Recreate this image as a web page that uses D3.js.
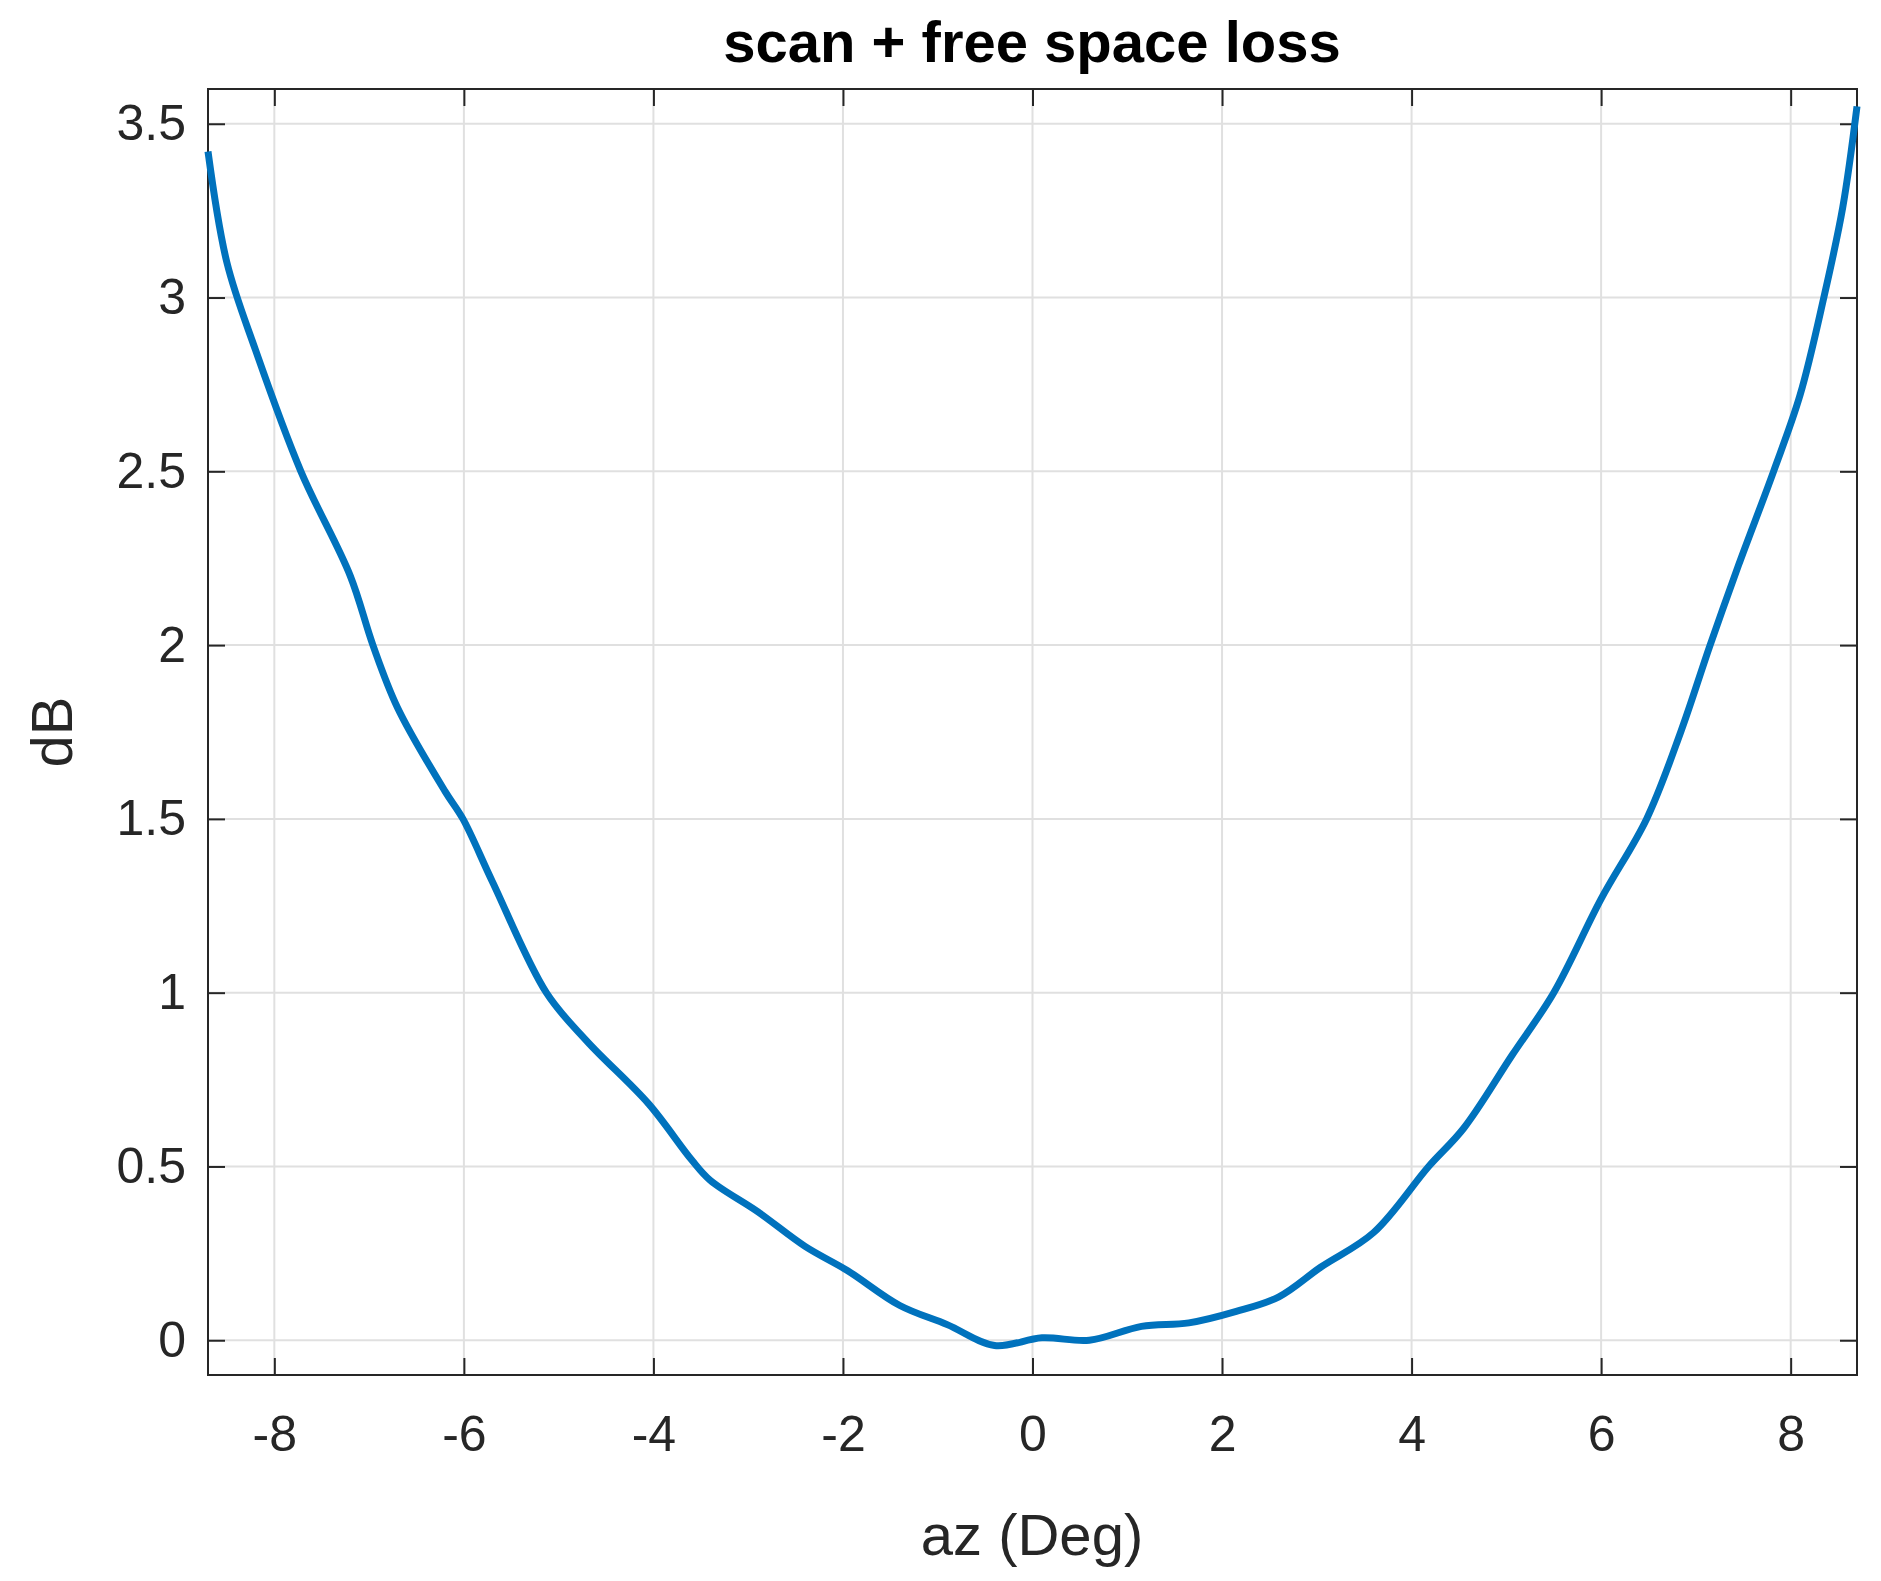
<!DOCTYPE html><html><head><meta charset="utf-8"><script src="https://cdn.jsdelivr.net/npm/d3@7"></script>
<style>body{margin:0;background:#fff}</style></head><body><svg id="c" width="1881" height="1581"></svg><script>
const az=[-8.7,-8.5,-8.2,-7.72,-7.2,-6.96,-6.7,-6.2,-6.01,-5.7,-5.13,-4.7,-4.05,-3.6,-3.4,-2.9,-2.4,-1.95,-1.4,-0.9,-0.4,0.1,0.6,1.15,1.65,2.15,2.6,3.04,3.6,4.18,4.55,5.06,5.5,6.0,6.48,6.84,7.15,7.45,7.82,8.1,8.35,8.55,8.7];
const dB=[3.42,3.1,2.85,2.5,2.2,2.0,1.82,1.58,1.5,1.32,1.0,0.86,0.68,0.52,0.46,0.37,0.27,0.2,0.1,0.045,-0.015,0.007,0,0.04,0.05,0.083,0.125,0.21,0.31,0.5,0.61,0.82,1.0,1.27,1.5,1.75,2.0,2.23,2.5,2.72,3.0,3.26,3.55];
const xTicks=[-8,-6,-4,-2,0,2,4,6,8];
const yTicks=[0,0.5,1,1.5,2,2.5,3,3.5];
const svg=d3.select("#c"),L=208,R=1857,T=89,B=1375;
const x=d3.scaleLinear().domain([-8.7,8.7]).range([L,R]);
const y=d3.scaleLinear().domain([-0.1,3.6]).range([B,T]);
const g=svg.append("g");
g.selectAll(".gx").data(xTicks).join("line").attr("x1",d=>x(d)).attr("x2",d=>x(d)).attr("y1",T).attr("y2",B).attr("stroke","#e0e0e0").attr("stroke-width",2);
g.selectAll(".gy").data(yTicks).join("line").attr("y1",d=>y(d)).attr("y2",d=>y(d)).attr("x1",L).attr("x2",R).attr("stroke","#e0e0e0").attr("stroke-width",2);
const ax=d3.axisBottom(x).tickValues(xTicks).tickSize(-17).tickPadding(40).tickFormat(d=>String(d).replace("−","-"));
const ay=d3.axisLeft(y).tickValues(yTicks).tickSize(-17).tickPadding(22).tickFormat(d=>String(d));
function st(s){s.select(".domain").remove();s.selectAll("line").attr("stroke","#262626").attr("stroke-width",2);s.selectAll("text").attr("font-family","Liberation Sans, Arial").attr("font-size",50).attr("fill","#262626");}
svg.append("g").attr("transform",`translate(0,${B})`).call(ax).call(st);
svg.append("g").attr("transform",`translate(0,${T})`).call(d3.axisTop(x).tickValues(xTicks).tickSize(-17).tickFormat("")).call(st);
svg.append("g").attr("transform",`translate(${L},0)`).call(ay).call(st);
svg.append("g").attr("transform",`translate(${R},0)`).call(d3.axisRight(y).tickValues(yTicks).tickSize(-17).tickFormat("")).call(st);
svg.append("rect").attr("x",L).attr("y",T).attr("width",R-L).attr("height",B-T).attr("fill","none").attr("stroke","#262626").attr("stroke-width",2);
svg.append("path").datum(az.map((a,i)=>[a,dB[i]])).attr("d",d3.line().x(d=>x(d[0])).y(d=>y(d[1])).curve(d3.curveCatmullRom)).attr("fill","none").attr("stroke","#0072bd").attr("stroke-width",7);
svg.append("text").attr("x",1032).attr("y",62).attr("text-anchor","middle").attr("font-family","Liberation Sans, Arial").attr("font-weight","bold").attr("font-size",58).text("scan + free space loss");
svg.append("text").attr("x",1032).attr("y",1555).attr("text-anchor","middle").attr("font-family","Liberation Sans, Arial").attr("font-size",58).attr("fill","#262626").text("az (Deg)");
svg.append("text").attr("transform","translate(72,732) rotate(-90)").attr("text-anchor","middle").attr("font-family","Liberation Sans, Arial").attr("font-size",58).attr("fill","#262626").text("dB");
</script></body></html>
